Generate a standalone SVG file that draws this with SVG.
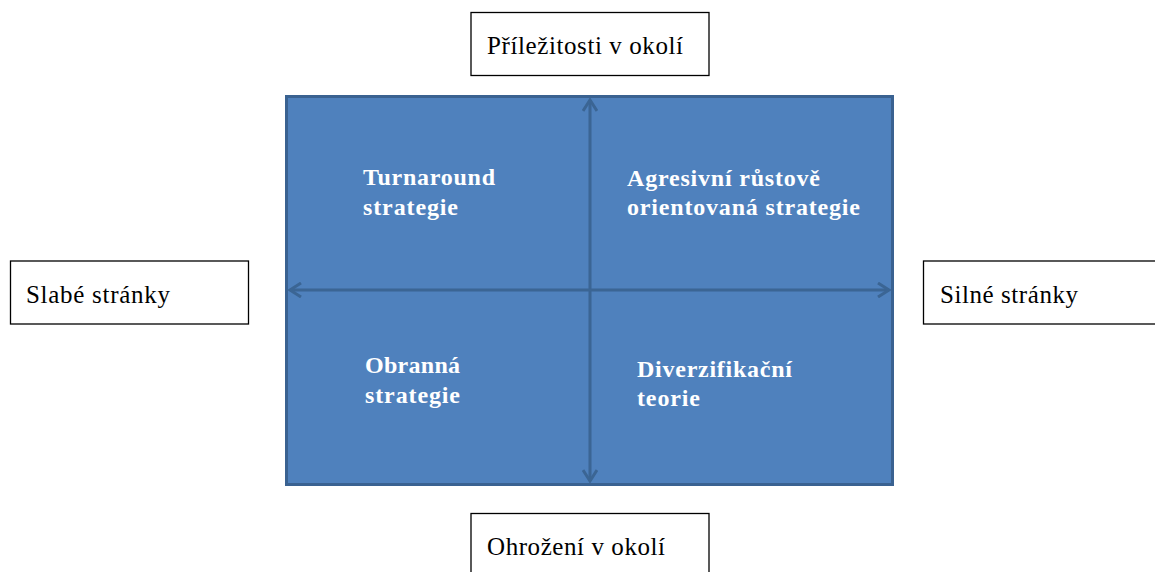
<svg xmlns="http://www.w3.org/2000/svg" width="1155" height="572" viewBox="0 0 1155 572">
<defs>
<style>
.box{fill:#fff;stroke:#000;stroke-width:1.3}
.lbl{font-family:"Liberation Serif","Times New Roman",serif;font-size:25px;fill:#000}
.q{font-family:"Liberation Serif","Times New Roman",serif;font-size:24px;font-weight:bold;fill:#fff}
.ax{stroke:#3b6594;stroke-width:3;fill:none}
</style>
<marker id="ah" viewBox="0 0 14 16" refX="12" refY="8" markerWidth="14" markerHeight="16" markerUnits="userSpaceOnUse" orient="auto-start-reverse">
<path d="M1,1 L12,8 L1,15" fill="none" stroke="#3b6594" stroke-width="3"/>
</marker>
</defs>
<rect width="1155" height="572" fill="#fff"/>
<g id="matrix">
<rect x="286.5" y="96.5" width="606" height="388" fill="#4f81bd" stroke="#3a6291" stroke-width="3"/>
</g>
<g id="connectors">
<line class="ax" x1="590" y1="100" x2="590" y2="481" marker-start="url(#ah)" marker-end="url(#ah)"/>
<line class="ax" x1="290" y1="290" x2="889" y2="290" marker-start="url(#ah)" marker-end="url(#ah)"/>
</g>
<g id="q1">
<text class="q" x="363" y="185" textLength="132" lengthAdjust="spacing">Turnaround</text>
<text class="q" x="363" y="215" textLength="95" lengthAdjust="spacing">strategie</text>
</g>
<g id="q2">
<text class="q" x="627" y="186" textLength="193" lengthAdjust="spacing">Agresivní růstově</text>
<text class="q" x="627" y="215" textLength="233" lengthAdjust="spacing">orientovaná strategie</text>
</g>
<g id="q3">
<text class="q" x="365" y="373" textLength="95" lengthAdjust="spacing">Obranná</text>
<text class="q" x="365" y="403" textLength="95" lengthAdjust="spacing">strategie</text>
</g>
<g id="q4">
<text class="q" x="637" y="377" textLength="155" lengthAdjust="spacing">Diverzifikační</text>
<text class="q" x="637" y="406" textLength="63" lengthAdjust="spacing">teorie</text>
</g>
<g id="top">
<rect class="box" x="471" y="12.5" width="238" height="63"/>
<text class="lbl" x="487" y="54" textLength="196" lengthAdjust="spacing">Příležitosti v okolí</text>
</g>
<g id="bottom">
<rect class="box" x="471" y="513.5" width="238" height="63"/>
<text class="lbl" x="487" y="555" textLength="178" lengthAdjust="spacing">Ohrožení v okolí</text>
</g>
<g id="left">
<rect class="box" x="10.5" y="261" width="238" height="63"/>
<text class="lbl" x="26" y="303" textLength="144" lengthAdjust="spacing">Slabé stránky</text>
</g>
<g id="right">
<rect class="box" x="923.5" y="261" width="238" height="63"/>
<text class="lbl" x="940" y="303" textLength="138" lengthAdjust="spacing">Silné stránky</text>
</g>
</svg>
